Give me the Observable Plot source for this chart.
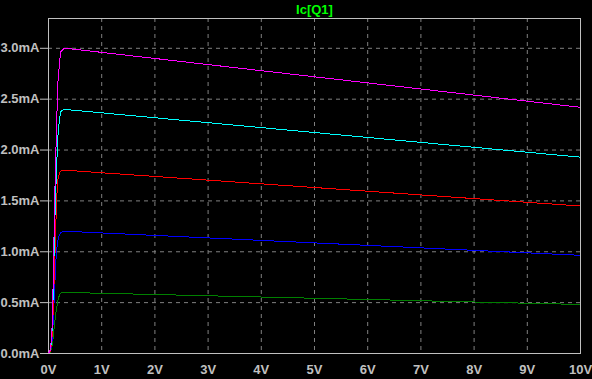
<!DOCTYPE html>
<html><head><meta charset="utf-8">
<script src="https://cdn.jsdelivr.net/npm/d3@7"></script>
<script src="https://cdn.jsdelivr.net/npm/@observablehq/plot@0.6"></script>
<style>html,body{margin:0;padding:0;background:#000;overflow:hidden}</style>
</head><body><div id="chart"></div>
<script>
const title = "Ic[Q1]";
const xTicks = [0, 1, 2, 3, 4, 5, 6, 7, 8, 9, 10];
const xTickLabels = ["0V", "1V", "2V", "3V", "4V", "5V", "6V", "7V", "8V", "9V", "10V"];
const yTicks = [0, 0.5, 1.0, 1.5, 2.0, 2.5, 3.0];
const yTickLabels = ["0.0mA", "0.5mA", "1.0mA", "1.5mA", "2.0mA", "2.5mA", "3.0mA"];

// Vce (V) and Ic (mA) for each stepped trace
const greenV   = [0, 0.03, 0.06, 0.08, 0.10, 0.12, 0.15, 0.18, 0.21, 0.25, 0.5, 10];
const greenI   = [0, 0.01, 0.05, 0.12, 0.22, 0.32, 0.44, 0.53, 0.58, 0.60, 0.598, 0.482];
const blueV    = [0, 0.03, 0.06, 0.08, 0.10, 0.12, 0.14, 0.16, 0.18, 0.20, 0.23, 0.30, 0.6, 10];
const blueI    = [0, 0.02, 0.08, 0.22, 0.45, 0.70, 0.92, 1.05, 1.12, 1.16, 1.19, 1.20, 1.195, 0.965];
const redV     = [0, 0.03, 0.06, 0.08, 0.10, 0.12, 0.14, 0.16, 0.18, 0.21, 0.25, 0.5, 10];
const redI     = [0, 0.02, 0.10, 0.30, 0.62, 0.95, 1.30, 1.58, 1.72, 1.78, 1.80, 1.795, 1.45];
const cyanV    = [0, 0.03, 0.06, 0.08, 0.10, 0.12, 0.15, 0.175, 0.21, 0.235, 0.30, 0.5, 10];
const cyanI    = [0, 0.03, 0.13, 0.42, 0.88, 1.32, 1.80, 2.13, 2.32, 2.38, 2.40, 2.39, 1.93];
const magentaV = [0, 0.03, 0.06, 0.08, 0.10, 0.12, 0.15, 0.175, 0.21, 0.235, 0.30, 0.5, 10];
const magentaI = [0, 0.03, 0.15, 0.50, 1.05, 1.60, 2.20, 2.65, 2.88, 2.97, 3.00, 2.99, 2.42];

const traceNames  = ["green", "blue", "red", "cyan", "magenta"];
const traceColors = ["#00ff00", "#0000ff", "#ff0000", "#00b0b0", "#ff00ff"];
const traceV = [greenV, blueV, redV, cyanV, magentaV];
const traceI = [greenI, blueI, redI, cyanI, magentaI];

const rows = traceNames.flatMap((name, t) =>
  traceV[t].map((v, k) => ({trace: name, v, i: traceI[t][k]})));

const font = "'Liberation Sans', Arial, sans-serif";
const gray = "#c0c0c0";

const chart = Plot.plot({
  width: 592, height: 379,
  marginLeft: 48, marginRight: 12, marginTop: 18, marginBottom: 26,
  style: {background: "#000", color: gray, fontFamily: font, fontSize: "13px", fontWeight: "bold"},
  x: {domain: [0, 10], axis: null},
  y: {domain: [0, 3.293], axis: null},
  color: {domain: traceNames, range: traceColors},
  marks: [
    Plot.gridX(xTicks.slice(1, -1), {stroke: "#808080", strokeOpacity: 1, strokeDasharray: "4,4"}),
    Plot.gridY(yTicks.slice(1), {stroke: "#808080", strokeOpacity: 1, strokeDasharray: "4,4"}),
    Plot.frame({stroke: gray}),
    Plot.axisY(yTicks, {
      label: null, tickSize: 8, tickPadding: 1, color: gray, fontSize: 13, fontWeight: "bold",
      tickFormat: d => yTickLabels[yTicks.indexOf(d)]
    }),
    Plot.axisX(xTicks, {
      label: null, tickSize: 0, tickPadding: 11, color: gray, fontSize: 13, fontWeight: "bold",
      tickFormat: d => xTickLabels[xTicks.indexOf(d)]
    }),
    Plot.line(rows, {x: "v", y: "i", z: "trace", stroke: "trace", strokeWidth: 1, curve: "linear", clip: true, shapeRendering: "crispEdges"}),
    Plot.text([title], {frameAnchor: "top", dy: -9, lineAnchor: "middle", fill: "#00ff00", fontSize: 13, fontWeight: "bold"})
  ]
});
document.getElementById("chart").appendChild(chart);
</script>
</body></html>
